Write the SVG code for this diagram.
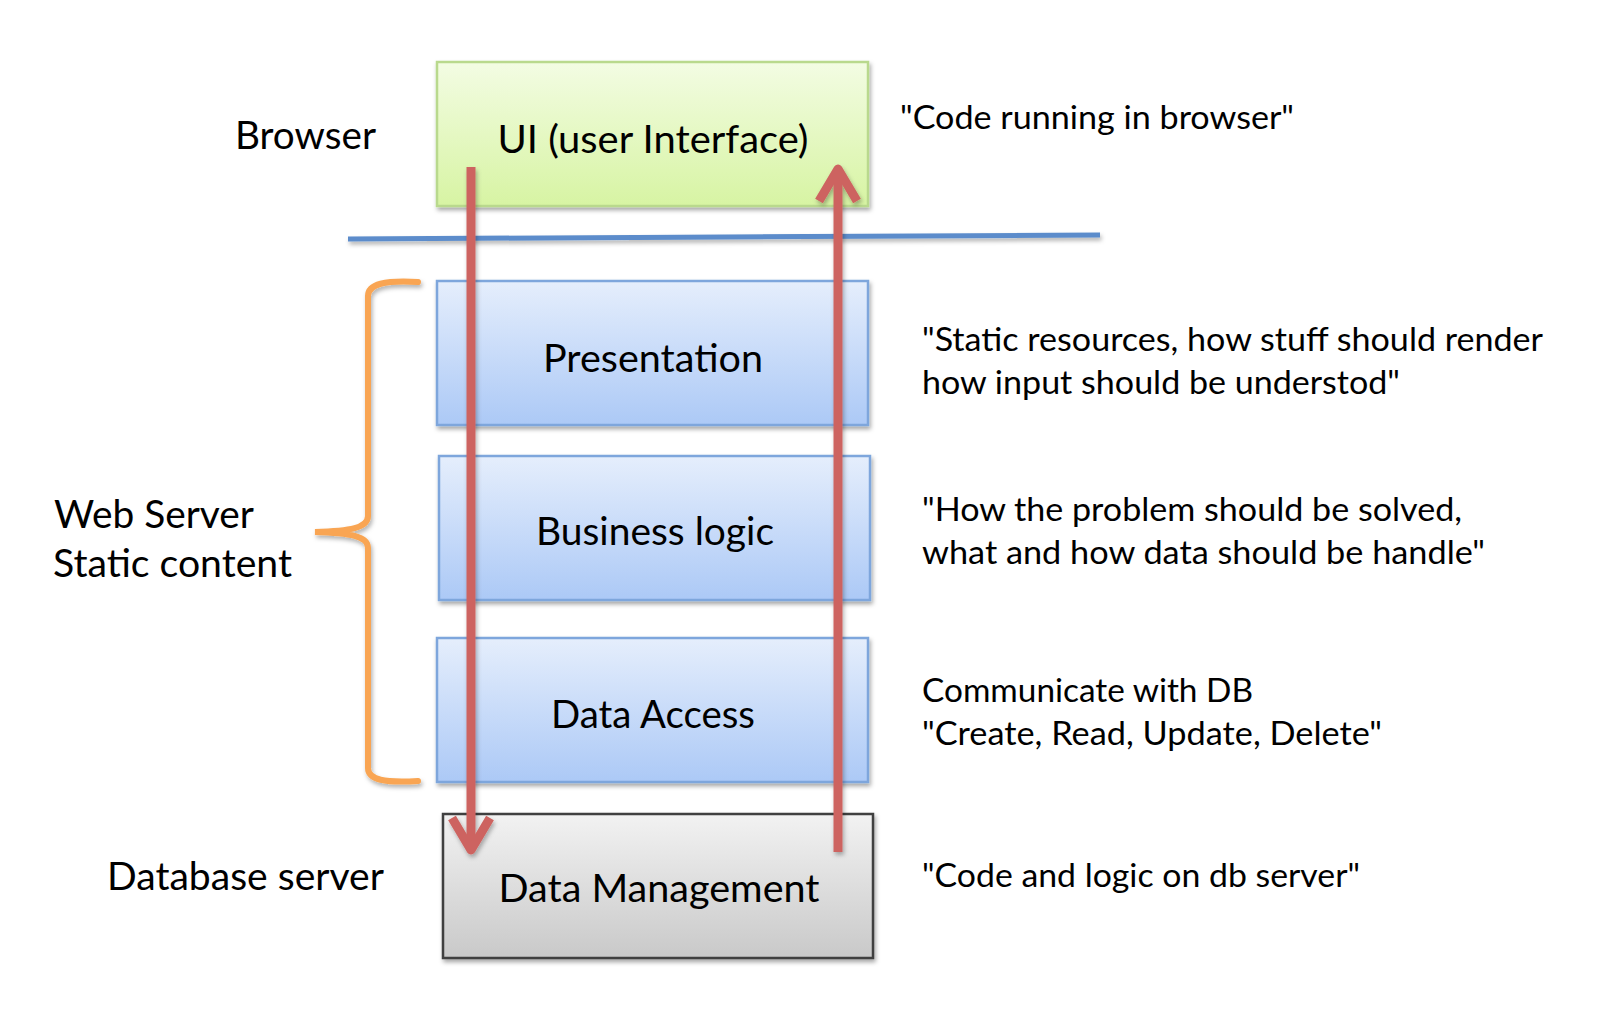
<svg xmlns="http://www.w3.org/2000/svg" width="1616" height="1024" viewBox="0 0 1616 1024">
<style>
text{font-family:Lato,"Open Sans","Liberation Sans",sans-serif;fill:#000}
.lbl{font-size:38px}
.big{font-size:38px;text-anchor:middle}
.note{font-size:32px}
.box{stroke-width:2.5;filter:url(#sh)}
.arr{fill:none;stroke:#cd6460;stroke-width:9}
</style>
<defs>
<linearGradient id="gG" x1="0" y1="0" x2="0" y2="1"><stop offset="0" stop-color="#f3fce3"/><stop offset="1" stop-color="#d7f4a3"/></linearGradient>
<linearGradient id="gB" x1="0" y1="0" x2="0" y2="1"><stop offset="0" stop-color="#e5eefc"/><stop offset="1" stop-color="#acc9f6"/></linearGradient>
<linearGradient id="gK" x1="0" y1="0" x2="0" y2="1"><stop offset="0" stop-color="#f2f2f2"/><stop offset="1" stop-color="#c9c9c9"/></linearGradient>
<filter id="sh" x="-10%" y="-10%" width="120%" height="130%"><feDropShadow dx="1.5" dy="3" stdDeviation="2" flood-color="#000" flood-opacity="0.35"/></filter>
<filter id="shu" filterUnits="userSpaceOnUse" x="0" y="0" width="1616" height="1024"><feDropShadow dx="1.5" dy="3" stdDeviation="2" flood-color="#000" flood-opacity="0.3"/></filter>
<marker id="ah" markerUnits="userSpaceOnUse" viewBox="-40 -25 50 50" refX="0" refY="0" markerWidth="50" markerHeight="50" orient="auto">
<path d="M -32 -19 L 0 0 L -32 19" fill="none" stroke="#cd6460" stroke-width="9" stroke-linejoin="round" stroke-linecap="butt"/>
</marker>
</defs>
<rect width="1616" height="1024" fill="#fff"/>

<g id="labels">
<text class="lbl" x="235" y="149" textLength="141" lengthAdjust="spacingAndGlyphs">Browser</text>
<text class="lbl" x="54" y="528" textLength="200" lengthAdjust="spacingAndGlyphs">Web Server</text>
<text class="lbl" x="53" y="577" textLength="239" lengthAdjust="spacingAndGlyphs">Static content</text>
<text class="lbl" x="107" y="890" textLength="277" lengthAdjust="spacingAndGlyphs">Database server</text>
</g>

<g id="notes">
<text class="note" x="900" y="129" textLength="394" lengthAdjust="spacingAndGlyphs">"Code running in browser"</text>
<text class="note" x="922" y="351" textLength="621" lengthAdjust="spacingAndGlyphs">"Static resources, how stuff should render</text>
<text class="note" x="922" y="394" textLength="478" lengthAdjust="spacingAndGlyphs">how input should be understod"</text>
<text class="note" x="922" y="521" textLength="540" lengthAdjust="spacingAndGlyphs">"How the problem should be solved,</text>
<text class="note" x="922" y="564" textLength="563" lengthAdjust="spacingAndGlyphs">what and how data should be handle"</text>
<text class="note" x="922" y="702" textLength="331" lengthAdjust="spacingAndGlyphs">Communicate with DB</text>
<text class="note" x="922" y="745" textLength="460" lengthAdjust="spacingAndGlyphs">"Create, Read, Update, Delete"</text>
<text class="note" x="922" y="887" textLength="438" lengthAdjust="spacingAndGlyphs">"Code and logic on db server"</text>
</g>

<g id="brace">
<path d="M 418 282 C 385 280 368 284 368 296 L 368 516 C 368 528 350 531 315 532 C 350 533 368 536 368 548 L 368 768 C 368 780 385 783 418 781" fill="none" stroke="#f9a552" stroke-width="6" stroke-linecap="round" filter="url(#shu)"/>
</g>

<g id="node-ui">
<rect class="box" x="437" y="62" width="431" height="144" fill="url(#gG)" stroke="#b9d98d"/>
<text class="big" x="653" y="153" textLength="311" lengthAdjust="spacingAndGlyphs">UI (user Interface)</text>
</g>
<g id="node-presentation">
<rect class="box" x="437" y="281" width="431" height="144" fill="url(#gB)" stroke="#7ea6dc"/>
<text class="big" x="653" y="372" textLength="220" lengthAdjust="spacingAndGlyphs">Presentation</text>
</g>
<g id="node-business">
<rect class="box" x="439" y="456" width="431" height="144" fill="url(#gB)" stroke="#7ea6dc"/>
<text class="big" x="655" y="545" textLength="238" lengthAdjust="spacingAndGlyphs">Business logic</text>
</g>
<g id="node-dataaccess">
<rect class="box" x="437" y="638" width="431" height="144" fill="url(#gB)" stroke="#7ea6dc"/>
<text class="big" x="653" y="728" textLength="204" lengthAdjust="spacingAndGlyphs">Data Access</text>
</g>
<g id="node-datamanagement">
<rect class="box" x="443" y="814" width="430" height="144" fill="url(#gK)" stroke="#3f3f3f"/>
<text class="big" x="659" y="902" textLength="321" lengthAdjust="spacingAndGlyphs">Data Management</text>
</g>

<g id="divider">
<line x1="348" y1="239" x2="1100" y2="235" stroke="#5b8ccb" stroke-width="5" filter="url(#shu)"/>
</g>

<g id="connectors">
<line class="arr" x1="471" y1="167" x2="471" y2="850" marker-end="url(#ah)" filter="url(#shu)"/>
<line class="arr" x1="838" y1="852" x2="838" y2="169" marker-end="url(#ah)" filter="url(#shu)"/>
</g>
</svg>
